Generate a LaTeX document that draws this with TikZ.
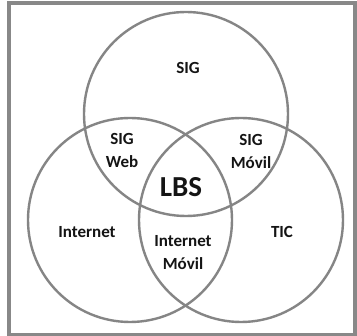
\documentclass[tikz,border=0pt]{standalone}
\usepackage{fontspec}
\setmainfont{Carlito}
\definecolor{ringgray}{HTML}{858585}
\definecolor{framegray}{HTML}{888888}
\definecolor{inkblack}{HTML}{141414}
\begin{document}
\begin{tikzpicture}[x=1pt,y=-1pt,
  ring/.style={draw=ringgray,line width=2.4pt},
  lbl/.style={text=inkblack,font=\fontsize{17}{23}\selectfont\bfseries,align=center,inner sep=0pt},
  biglbl/.style={text=inkblack,font=\fontsize{29}{34}\selectfont\bfseries,inner sep=0pt}]
\useasboundingbox (0,0) rectangle (357,336);
\fill[white] (0,0) rectangle (357,336);
% outer frame
\draw[framegray,line width=3.6pt] (9,3) rectangle (355,334.5);
% three overlapping sets
\draw[ring] (186,114) circle[radius=102];
\draw[ring] (130,220) circle[radius=102];
\draw[ring] (241,220) circle[radius=102];
% region labels
\node[lbl] (sig) at (188,68) {SIG};
\node[lbl] (sigweb) at (122,150) {SIG\\Web};
\node[lbl] (sigmovil) at (251,151) {SIG\\Móvil};
\node[biglbl] (lbs) at (181,187) {LBS};
\node[lbl] (internet) at (87,232) {Internet};
\node[lbl] (intmovil) at (183,253) {Internet\\Móvil};
\node[lbl] (tic) at (282,232) {TIC};
\end{tikzpicture}
\end{document}
